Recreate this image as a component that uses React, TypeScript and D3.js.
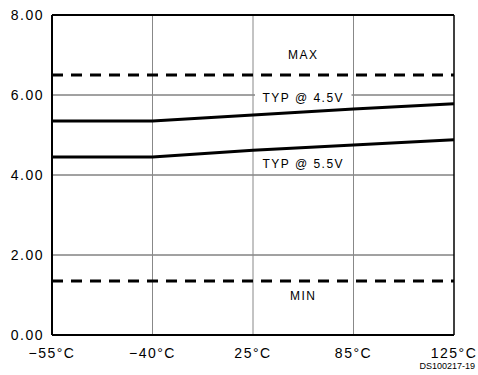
import { useEffect, useRef } from 'react';
import * as d3 from 'd3';

// ---------------------------------------------------------------------------
// Data
// ---------------------------------------------------------------------------

const TEMPS = ['−55°C', '−40°C', '25°C', '85°C', '125°C'];
const TYP_45V = [5.35, 5.35, 5.5, 5.65, 5.78];
const TYP_55V = [4.45, 4.45, 4.62, 4.75, 4.88];
const MAX_LIMIT = 6.5;
const MIN_LIMIT = 1.35;
const Y_TICKS = [0, 2, 4, 6, 8];

const W = 478;
const H = 375;
const FONT = '"Liberation Sans", Arial, sans-serif';

export default function App() {
  const svgRef = useRef<SVGSVGElement>(null);

  useEffect(() => {
    if (!svgRef.current) return;
    const svg = d3.select(svgRef.current);
    svg.selectAll('*').remove();

    const margin = { top: 15, right: 24, bottom: 40, left: 52 };
    const x = d3.scalePoint<string>().domain(TEMPS).range([margin.left, W - margin.right]);
    const y = d3.scaleLinear().domain([0, 8]).range([H - margin.bottom, margin.top]);
    const x0 = margin.left;
    const x1 = W - margin.right;

    svg.append('rect').attr('width', W).attr('height', H).attr('fill', '#fff');

    // horizontal grid
    svg.selectAll('.hgrid')
      .data(Y_TICKS.filter((d) => d > 0 && d < 8))
      .join('line')
      .attr('x1', x0).attr('x2', x1)
      .attr('y1', (d) => y(d)).attr('y2', (d) => y(d))
      .attr('stroke', '#444').attr('stroke-width', 1);

    // vertical grid
    svg.selectAll('.vgrid')
      .data(TEMPS.slice(1, -1))
      .join('line')
      .attr('x1', (d) => x(d)!).attr('x2', (d) => x(d)!)
      .attr('y1', y(0)).attr('y2', y(8))
      .attr('stroke', '#888').attr('stroke-width', 1);

    // limit lines
    [MAX_LIMIT, MIN_LIMIT].forEach((v) => {
      svg.append('line')
        .attr('x1', x0).attr('x2', x1)
        .attr('y1', y(v)).attr('y2', y(v))
        .attr('stroke', '#000').attr('stroke-width', 3)
        .attr('stroke-dasharray', '11,8');
    });

    // typ curves
    const line = d3.line<number>()
      .x((_d, i) => x(TEMPS[i])!)
      .y((d) => y(d));
    [TYP_45V, TYP_55V].forEach((s) => {
      svg.append('path')
        .datum(s)
        .attr('d', line)
        .attr('fill', 'none')
        .attr('stroke', '#000')
        .attr('stroke-width', 3);
    });

    // frame
    svg.append('line').attr('x1', x0).attr('x2', x1).attr('y1', y(8)).attr('y2', y(8))
      .attr('stroke', '#000').attr('stroke-width', 2);
    svg.append('line').attr('x1', x1).attr('x2', x1).attr('y1', y(0)).attr('y2', y(8))
      .attr('stroke', '#000').attr('stroke-width', 1.5);
    svg.append('line').attr('x1', x0).attr('x2', x0).attr('y1', y(0)).attr('y2', y(8))
      .attr('stroke', '#000').attr('stroke-width', 2);
    svg.append('line').attr('x1', x0).attr('x2', x1).attr('y1', y(0)).attr('y2', y(0))
      .attr('stroke', '#000').attr('stroke-width', 2);

    // annotations
    const cx = (x(TEMPS[2])! + x(TEMPS[3])!) / 2;
    const notes: { t: string; v: number; bg: boolean }[] = [
      { t: 'MAX', v: 7.0, bg: false },
      { t: 'TYP @ 4.5V', v: 5.93, bg: true },
      { t: 'TYP @ 5.5V', v: 4.27, bg: false },
      { t: 'MIN', v: 0.98, bg: false },
    ];
    notes.forEach((n) => {
      if (n.bg) {
        svg.append('rect')
          .attr('x', x(TEMPS[2])! + 2).attr('y', y(n.v) - 9)
          .attr('width', x(TEMPS[3])! - x(TEMPS[2])! - 4).attr('height', 18)
          .attr('fill', '#fff');
      }
      svg.append('text')
        .attr('x', cx).attr('y', y(n.v))
        .attr('text-anchor', 'middle').attr('dominant-baseline', 'central')
        .attr('font-family', FONT).attr('font-size', 12).attr('letter-spacing', 1.5)
        .attr('fill', '#000')
        .text(n.t);
    });

    // y tick labels
    svg.selectAll('.ylab')
      .data(Y_TICKS)
      .join('text')
      .attr('x', x0 - 8)
      .attr('y', (d) => y(d))
      .attr('text-anchor', 'end').attr('dominant-baseline', 'central')
      .attr('font-family', FONT).attr('font-size', 14).attr('letter-spacing', 1.5)
      .attr('fill', '#000')
      .text((d) => d3.format('.2f')(d));

    // x tick labels
    svg.selectAll('.xlab')
      .data(TEMPS)
      .join('text')
      .attr('x', (d) => x(d)!)
      .attr('y', y(0) + 18)
      .attr('text-anchor', 'middle').attr('dominant-baseline', 'central')
      .attr('font-family', FONT).attr('font-size', 14).attr('letter-spacing', 1.5)
      .attr('fill', '#000')
      .text((d) => d);

    svg.append('text')
      .attr('x', 475).attr('y', 369)
      .attr('text-anchor', 'end')
      .attr('font-family', FONT).attr('font-size', 9)
      .attr('fill', '#000')
      .text('DS100217-19');
  }, []);

  return (
    <svg
      ref={svgRef}
      width={W}
      height={H}
      style={{ position: 'absolute', left: 0, top: 0, display: 'block' }}
    />
  );
}
